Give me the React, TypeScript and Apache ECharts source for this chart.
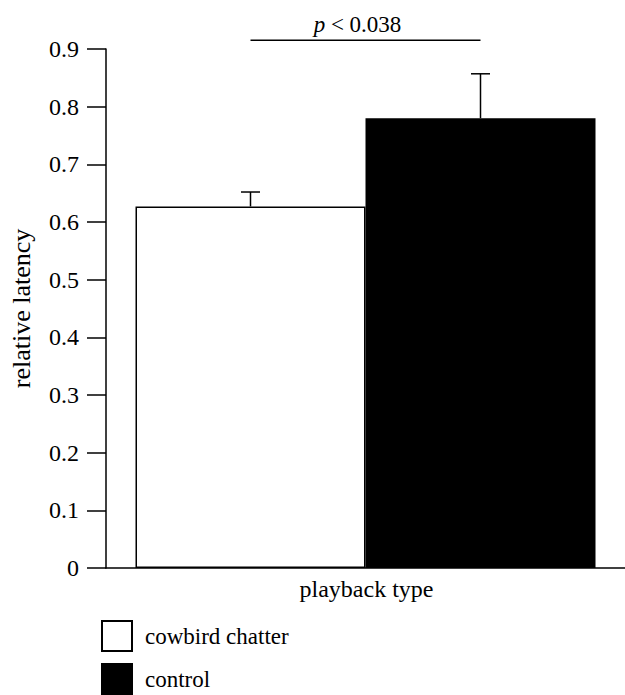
import React, { useEffect, useRef } from "react";
import * as echarts from "echarts";

const categories = ["playback type"];
const seriesNames = ["cowbird chatter", "control"];
const means = [0.627, 0.78];
const upperErr = [0.652, 0.857];
const sigLevel = [0.915];
const sigText = ["p < 0.038"];
const yMin = 0;
const yMax = 0.9;
const yStep = 0.1;

const FONT = "'Liberation Serif', 'Times New Roman', serif";
const BAR_W = 230;

export default function App() {
  const ref = useRef<HTMLDivElement>(null);
  useEffect(() => {
    document.body.style.margin = "0";
    const chart = echarts.init(ref.current!, null, { renderer: "svg" });
    chart.setOption({
      animation: false,
      backgroundColor: "#fff",
      textStyle: { fontFamily: FONT, color: "#000" },
      grid: { left: 101, right: 0, top: 49, bottom: 127 },
      legend: {
        data: seriesNames,
        orient: "vertical",
        left: 101,
        bottom: 0,
        icon: "rect",
        itemWidth: 30,
        itemHeight: 30,
        itemGap: 11,
        padding: 0,
        textStyle: { fontFamily: FONT, fontSize: 23, color: "#000", padding: [0, 0, 0, 8] },
      },
      xAxis: {
        type: "category",
        data: categories,
        axisLine: { lineStyle: { color: "#000", width: 1.5 } },
        axisTick: { show: false },
        axisLabel: { fontFamily: FONT, fontSize: 24, color: "#000", margin: 9, padding: [0, 0, 0, 2] },
      },
      yAxis: {
        type: "value",
        min: yMin,
        max: yMax,
        interval: yStep,
        name: "relative latency",
        nameLocation: "middle",
        nameGap: 72,
        nameTextStyle: { fontFamily: FONT, fontSize: 26, color: "#000" },
        splitLine: { show: false },
        axisLine: { show: true, lineStyle: { color: "#000", width: 1.5 } },
        axisTick: { show: true, length: 19, lineStyle: { color: "#000", width: 1.5 } },
        axisLabel: {
          fontFamily: FONT,
          fontSize: 24,
          color: "#000",
          margin: 27,
          formatter: (v: number) => (v === 0 ? "0" : v.toFixed(1)),
        },
      },
      series: [
        {
          name: seriesNames[0],
          type: "bar",
          data: [means[0]],
          barWidth: BAR_W,
          barGap: "0%",
          itemStyle: { color: "#fff", borderColor: "#000", borderWidth: 1.5 },
        },
        {
          name: seriesNames[1],
          type: "bar",
          data: [means[1]],
          barWidth: BAR_W,
          barGap: "0%",
          itemStyle: { color: "#000", borderColor: "#000", borderWidth: 1.5 },
        },
        {
          type: "custom",
          clip: false,
          z: 5,
          data: means.map((m, i) => [0, m, upperErr[i], i]),
          renderItem: (params: any, api: any) => {
            const base = api.coord([api.value(0), api.value(1)]);
            const top = api.coord([api.value(0), api.value(2)]);
            const x = base[0] + (api.value(3) - 0.5) * BAR_W;
            const st = { stroke: "#000", lineWidth: 1.5 };
            return {
              type: "group",
              children: [
                { type: "line", shape: { x1: x, y1: base[1], x2: x, y2: top[1] }, style: st },
                { type: "line", shape: { x1: x - 9.5, y1: top[1], x2: x + 9.5, y2: top[1] }, style: st },
              ],
            };
          },
        },
        {
          type: "custom",
          clip: false,
          z: 5,
          data: sigLevel.map((v, i) => [0, v, i]),
          renderItem: (params: any, api: any) => {
            const c = api.coord([api.value(0), api.value(1)]);
            const x1 = c[0] - BAR_W / 2;
            const x2 = c[0] + BAR_W / 2;
            const label = sigText[api.value(2)];
            const rest = label.slice(1);
            return {
              type: "group",
              children: [
                { type: "line", shape: { x1, y1: c[1], x2, y2: c[1] }, style: { stroke: "#000", lineWidth: 1.5 } },
                {
                  type: "text",
                  x: c[0] - 8,
                  y: c[1] - 4,
                  style: {
                    text: "{i|p}{n|" + rest + "}",
                    align: "center",
                    verticalAlign: "bottom",
                    rich: {
                      i: { fontFamily: FONT, fontSize: 23, fontStyle: "italic", fill: "#000" },
                      n: { fontFamily: FONT, fontSize: 23, fill: "#000" },
                    },
                  },
                },
              ],
            };
          },
        },
      ],
    });
    return () => chart.dispose();
  }, []);
  return <div ref={ref} style={{ width: 625, height: 695 }} />;
}
